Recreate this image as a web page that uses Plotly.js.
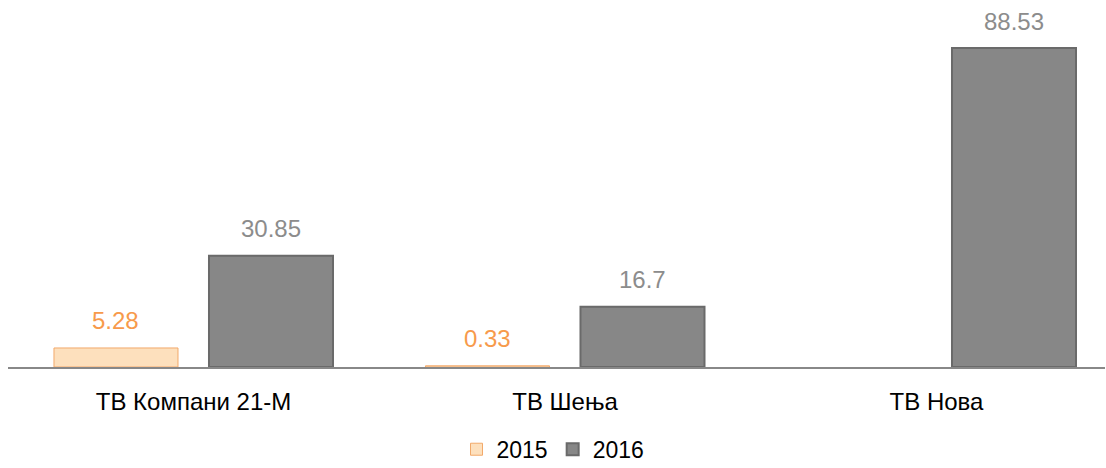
<!DOCTYPE html>
<html>
<head>
<meta charset="utf-8">
<script src="https://cdn.plot.ly/plotly-3.0.1.min.js"></script>
<style>html,body{margin:0;padding:0;background:#fff;}#chart{width:1106px;height:468px;}</style>
</head>
<body>
<div id="chart"></div>
<script>
const categories = ["ТВ Компани 21-М", "ТВ Шења", "ТВ Нова"];
const seriesNames = ["2015", "2016"];
const values2015 = [5.28, 0.33, null];
const values2016 = [30.85, 16.7, 88.53];

const FONT = "Liberation Sans, Arial, sans-serif";
const bargap = 0.1655;
const groupWidth = 1 - bargap;
const offset = groupWidth / 4;

const trace2015 = {
  type: "bar", name: seriesNames[0], x: categories, y: values2015,
  marker: {color: "#fde0bd", line: {color: "#f2a96a", width: 1}},
  hoverinfo: "skip"
};
const trace2016 = {
  type: "bar", name: seriesNames[1], x: categories, y: values2016,
  marker: {color: "#878787", line: {color: "#6a6a6a", width: 2}},
  hoverinfo: "skip"
};

const annotations = [];
values2015.forEach((v, i) => {
  if (v === null) return;
  annotations.push({x: i - offset, y: v, xref: "x", yref: "y", text: String(v),
    showarrow: false, yanchor: "middle", yshift: 27,
    font: {family: FONT, size: 24, color: "#f79a4b"}});
});
values2016.forEach((v, i) => {
  if (v === null) return;
  annotations.push({x: i + offset, y: v, xref: "x", yref: "y", text: String(v),
    showarrow: false, yanchor: "middle", yshift: 27,
    font: {family: FONT, size: 24, color: "#8c8c8c"}});
});

const layout = {
  width: 1106, height: 468,
  margin: {l: 8, r: 1, t: 10, b: 101, autoexpand: false},
  paper_bgcolor: "#ffffff", plot_bgcolor: "#ffffff",
  barmode: "group", bargap: bargap, bargroupgap: 0.2,
  font: {family: FONT, size: 24, color: "#000"},
  showlegend: true,
  legend: {orientation: "h", x: 0.5, xanchor: "center", xref: "container",
    y: 0.04, yanchor: "middle", yref: "container",
    font: {family: FONT, size: 23, color: "#000"}, itemwidth: 30, traceorder: "normal"},
  xaxis: {type: "category", range: [-0.4993, 2.4536], showline: true, linecolor: "#888888",
    linewidth: 2, ticks: "", showgrid: false, zeroline: false, fixedrange: true,
    tickfont: {family: FONT, size: 24, color: "#000"}, ticklabelstandoff: 12},
  yaxis: {range: [0, 99.08], visible: false, showgrid: false, zeroline: false, fixedrange: true},
  annotations: annotations
};

Plotly.newPlot("chart", [trace2015, trace2016], layout, {displayModeBar: false, staticPlot: true});
</script>
</body>
</html>
